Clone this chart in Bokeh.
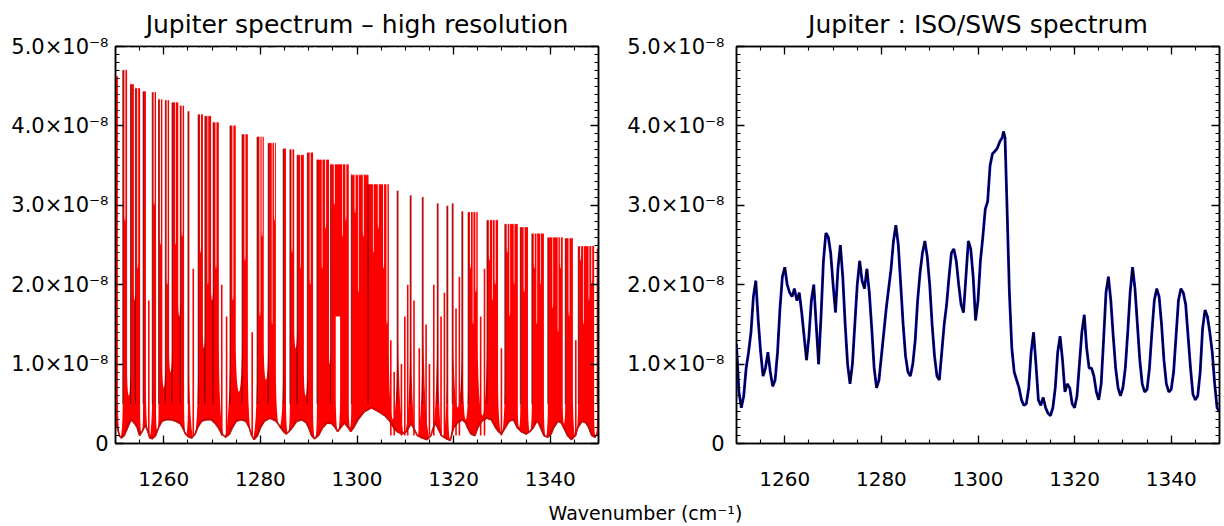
import math
from bokeh.plotting import figure
from bokeh.models import LinearAxis, SingleIntervalTicker, Range1d
from bokeh.layouts import column, row
from bokeh.embed import file_html
from bokeh.resources import INLINE
from bokeh.core.properties import value

# ---------------- data (values in units of 1e-8) ----------------
# High-resolution panel: clusters of strong lines (towers)
band_lo = [1250.0, 1251.5, 1253.1, 1254.1, 1255.7, 1257.6, 1258.9, 1260.3, 1261.7, 1263.4,
           1265.0, 1267.1, 1268.5, 1270.2, 1273.7, 1276.2, 1279.3, 1281.6, 1284.7, 1286.1,
           1287.6, 1289.7, 1291.7, 1294.5, 1298.8, 1302.3, 1308.3, 1311.0, 1313.5, 1316.6,
           1318.6, 1319.7, 1321.7, 1323.0, 1326.9, 1330.6, 1333.8, 1336.2, 1339.5, 1343.1,
           1345.8, 1349.7]
band_hi = [1250.5, 1252.4, 1253.8, 1255.1, 1256.3, 1258.4, 1259.7, 1261.1, 1263.0, 1264.2,
           1265.3, 1268.1, 1269.8, 1271.4, 1274.9, 1277.4, 1280.7, 1283.2, 1285.3, 1287.0,
           1289.0, 1290.9, 1294.2, 1298.3, 1302.3, 1306.6, 1308.6, 1311.3, 1313.8, 1316.9,
           1318.9, 1320.0, 1322.0, 1325.0, 1329.2, 1333.3, 1335.4, 1338.7, 1342.6, 1344.7,
           1349.1, 1350.0]
band_top = [4.62, 4.70, 4.52, 4.47, 4.43, 4.42, 4.33, 4.32, 4.29, 4.25,
            4.18, 4.14, 4.12, 4.04, 4.00, 3.89, 3.86, 3.78, 3.71, 3.70,
            3.63, 3.66, 3.57, 3.51, 3.38, 3.26, 3.18, 3.12, 3.10, 3.02,
            2.99, 3.02, 2.92, 2.91, 2.81, 2.76, 2.72, 2.64, 2.59, 2.58,
            2.48, 2.45]

# Lower envelope (minimum) of the high-resolution spectrum
floor_wn = [1250.0, 1250.4, 1250.8, 1251.2, 1251.8, 1252.5, 1253.2, 1254.0, 1254.5, 1255.0,
            1255.5, 1255.9, 1256.3, 1256.7, 1257.1, 1257.6, 1258.3, 1258.9, 1259.6, 1260.5,
            1261.5, 1262.5, 1263.4, 1263.9, 1264.5, 1265.2, 1265.8, 1266.5, 1267.0, 1267.8,
            1268.8, 1269.8, 1270.7, 1271.3, 1272.0, 1272.8, 1273.6, 1274.2, 1275.0, 1276.0,
            1277.0, 1277.7, 1278.2, 1278.7, 1279.4, 1280.0, 1280.8, 1282.0, 1283.3, 1284.2,
            1284.8, 1285.3, 1285.9, 1286.6, 1287.5, 1288.6, 1289.5, 1290.0, 1290.6, 1291.2,
            1292.0, 1292.9, 1293.8, 1294.8, 1295.5, 1296.0, 1296.6, 1297.4, 1298.2, 1298.7,
            1299.3, 1300.2, 1301.5, 1303.0, 1304.5, 1305.8, 1306.8, 1307.6, 1308.3, 1309.3,
            1310.2, 1310.7, 1311.2, 1311.7, 1312.5, 1313.5, 1314.5, 1315.3, 1315.8, 1316.3,
            1316.7, 1317.5, 1318.5, 1319.3, 1320.0, 1320.8, 1321.8, 1322.5, 1322.9, 1323.6,
            1324.4, 1325.0, 1325.8, 1326.8, 1327.8, 1328.7, 1329.3, 1329.9, 1330.7, 1331.5,
            1332.4, 1333.2, 1334.0, 1335.0, 1335.8, 1336.5, 1337.2, 1337.6, 1338.0, 1338.7,
            1339.5, 1340.2, 1340.7, 1341.6, 1342.3, 1342.8, 1343.6, 1344.4, 1345.2, 1345.7,
            1346.6, 1347.4, 1348.0, 1348.6, 1349.3, 1350.0]
floor_val = [0.25, 0.20, 0.10, 0.07, 0.10, 0.20, 0.30, 0.25, 0.20, 0.10,
             0.15, 0.20, 0.22, 0.15, 0.07, 0.06, 0.10, 0.20, 0.28, 0.30,
             0.30, 0.28, 0.25, 0.20, 0.12, 0.08, 0.07, 0.12, 0.20, 0.28,
             0.30, 0.30, 0.25, 0.20, 0.12, 0.08, 0.12, 0.20, 0.28, 0.30,
             0.28, 0.20, 0.10, 0.05, 0.10, 0.20, 0.28, 0.32, 0.28, 0.20,
             0.15, 0.12, 0.15, 0.20, 0.28, 0.30, 0.26, 0.20, 0.10, 0.06,
             0.10, 0.20, 0.26, 0.25, 0.20, 0.15, 0.20, 0.26, 0.20, 0.15,
             0.20, 0.30, 0.40, 0.45, 0.40, 0.35, 0.28, 0.20, 0.15, 0.12,
             0.15, 0.20, 0.25, 0.20, 0.10, 0.07, 0.05, 0.10, 0.20, 0.26,
             0.20, 0.10, 0.06, 0.04, 0.20, 0.26, 0.30, 0.26, 0.20, 0.12,
             0.10, 0.20, 0.28, 0.32, 0.30, 0.20, 0.15, 0.12, 0.20, 0.28,
             0.30, 0.20, 0.15, 0.12, 0.15, 0.20, 0.28, 0.26, 0.20, 0.10,
             0.08, 0.12, 0.20, 0.28, 0.26, 0.20, 0.10, 0.05, 0.10, 0.20,
             0.28, 0.26, 0.20, 0.10, 0.08, 0.15]

# White gaps between lines: left edge, right edge, lowest value, upper end
gap_lo = [1250.5, 1252.4, 1253.8, 1255.1, 1256.3, 1258.4, 1259.7, 1261.1, 1262.35, 1263.0,
          1264.2, 1265.3, 1268.1, 1269.05, 1269.8, 1271.4, 1274.9, 1277.4, 1280.7, 1282.35,
          1283.2, 1285.3, 1287.0, 1288.25, 1289.0, 1290.9, 1292.7, 1294.2, 1295.6, 1296.9,
          1298.3, 1300.2, 1303.3, 1306.6, 1308.6, 1311.3, 1313.8, 1316.9, 1318.9, 1320.0,
          1322.0, 1323.95, 1325.0, 1327.95, 1329.2, 1331.55, 1332.45, 1333.3, 1335.4, 1337.15,
          1337.95, 1338.7, 1340.45, 1341.55, 1342.6, 1344.7, 1346.85, 1347.95, 1349.1,
          1251.85, 1254.5, 1257.9, 1259.2, 1260.6, 1263.7, 1267.5, 1270.7, 1274.2, 1276.7,
          1279.8, 1280.25, 1282.8, 1286.45, 1290.2, 1293.4, 1295.2, 1297.6, 1299.5, 1301.2,
          1304.3, 1305.4, 1306.1, 1323.4, 1324.5, 1327.3, 1328.5, 1331.0, 1334.5, 1336.6,
          1342.0, 1343.8, 1346.2, 1348.5]
gap_hi = [1251.5, 1253.1, 1254.1, 1255.7, 1257.6, 1258.9, 1260.3, 1261.7, 1262.5, 1263.4,
          1265.0, 1267.1, 1268.5, 1269.2, 1270.2, 1273.7, 1276.2, 1279.3, 1281.6, 1282.5,
          1284.7, 1286.1, 1287.6, 1288.4, 1289.7, 1291.7, 1292.85, 1294.5, 1296.5, 1297.05,
          1298.8, 1300.35, 1303.45, 1308.3, 1311.0, 1313.5, 1316.6, 1318.6, 1319.7, 1321.7,
          1323.0, 1324.1, 1326.9, 1328.1, 1330.6, 1331.7, 1332.6, 1333.8, 1336.2, 1337.3,
          1338.1, 1339.5, 1340.6, 1341.7, 1343.1, 1345.8, 1347.0, 1348.1, 1349.7,
          1252.05, 1254.7, 1258.1, 1259.4, 1260.8, 1263.9, 1267.7, 1270.9, 1274.4, 1276.9,
          1280.0, 1280.45, 1283.0, 1286.65, 1290.4, 1293.6, 1295.4, 1297.8, 1299.7, 1301.4,
          1304.5, 1305.6, 1306.3, 1323.6, 1324.7, 1327.5, 1328.7, 1331.2, 1334.7, 1336.8,
          1342.2, 1344.0, 1346.4, 1348.7]
gap_bot = [0.07, 0.60, 1.80, 0.12, 0.06, 0.15, 0.70, 0.90, 2.50, 1.60,
           0.10, 0.07, 1.20, 2.00, 1.80, 0.08, 0.65, 0.05, 0.80, 1.50,
           0.20, 0.12, 1.20, 2.20, 0.60, 0.06, 2.20, 1.00, 0.15, 2.60,
           0.20, 1.90, 2.40, 0.30, 0.12, 0.07, 0.05, 0.08, 0.04, 0.45,
           0.30, 1.50, 0.35, 1.80, 0.12, 1.60, 2.00, 0.20, 0.14, 1.50,
           2.00, 0.08, 1.70, 1.40, 0.25, 0.08, 1.50, 1.80, 0.08,
           2.80, 2.20, 3.00, 2.50, 2.00, 2.60, 2.40, 2.20, 1.80, 2.30,
           1.60, 2.60, 2.80, 2.40, 2.00, 2.70, 3.00, 2.80, 2.90, 2.60,
           2.70, 2.20, 1.50, 2.20, 1.90, 2.30, 2.00, 2.40, 1.90, 2.20,
           2.20, 1.60, 2.30, 2.00]
gap_top = [6.0] * 28 + [1.6] + [6.0] * 64

# Weaker single lines standing inside the gaps
weak_wn = [1256.9, 1266.1, 1272.0, 1273.0, 1278.3, 1307.0, 1307.7, 1309.2, 1309.9, 1310.5,
           1311.8, 1312.9, 1314.3, 1315.0, 1315.9, 1317.4, 1318.1, 1320.5, 1321.2, 1325.6,
           1326.4, 1329.9, 1345.3]
weak_top = [1.8, 2.2, 2.0, 1.6, 1.4, 1.3, 0.9, 1.0, 1.6, 2.0,
            1.8, 1.2, 1.5, 1.0, 2.0, 1.6, 1.9, 1.7, 2.1, 1.6,
            2.2, 1.2, 1.3]

# ISO/SWS low-resolution spectrum
iso_wn = [1250.0, 1250.5, 1251.0, 1251.5, 1252.0, 1252.5, 1253.0, 1253.5, 1254.0, 1254.5,
          1255.0, 1255.5, 1256.0, 1256.5, 1257.0, 1257.5, 1258.0, 1258.5, 1259.0, 1259.5,
          1260.0, 1260.5, 1261.0, 1261.5, 1262.0, 1262.5, 1263.0, 1263.5, 1264.0, 1264.5,
          1265.0, 1265.5, 1266.0, 1266.5, 1267.0, 1267.5, 1268.0, 1268.5, 1269.0, 1269.5,
          1270.0, 1270.5, 1271.0, 1271.5, 1272.0, 1272.5, 1273.0, 1273.5, 1274.0, 1274.5,
          1275.0, 1275.5, 1276.0, 1276.5, 1277.0, 1277.5, 1278.0, 1278.5, 1279.0, 1279.5,
          1280.0, 1280.5, 1281.0, 1281.5, 1282.0, 1282.5, 1283.0, 1283.5, 1284.0, 1284.5,
          1285.0, 1285.5, 1286.0, 1286.5, 1287.0, 1287.5, 1288.0, 1288.5, 1289.0, 1289.5,
          1290.0, 1290.5, 1291.0, 1291.5, 1292.0, 1292.5, 1293.0, 1293.5, 1294.0, 1294.5,
          1295.0, 1295.5, 1296.0, 1296.5, 1297.0, 1297.5, 1298.0, 1298.5, 1299.0, 1299.5,
          1300.0, 1300.5, 1301.0, 1301.5, 1302.0, 1302.5, 1303.0, 1303.5, 1304.0, 1304.5,
          1305.0, 1305.3, 1305.6, 1306.0, 1306.5, 1307.0, 1307.5, 1308.0, 1308.5, 1309.0,
          1309.5, 1310.0, 1310.5, 1311.0, 1311.5, 1312.0, 1312.5, 1313.0, 1313.5, 1314.0,
          1314.5, 1315.0, 1315.5, 1316.0, 1316.5, 1317.0, 1317.5, 1318.0, 1318.5, 1319.0,
          1319.5, 1320.0, 1320.5, 1321.0, 1321.5, 1322.0, 1322.5, 1323.0, 1323.5, 1324.0,
          1324.5, 1325.0, 1325.5, 1326.0, 1326.5, 1327.0, 1327.5, 1328.0, 1328.5, 1329.0,
          1329.5, 1330.0, 1330.5, 1331.0, 1331.5, 1332.0, 1332.5, 1333.0, 1333.5, 1334.0,
          1334.5, 1335.0, 1335.5, 1336.0, 1336.5, 1337.0, 1337.5, 1338.0, 1338.5, 1339.0,
          1339.5, 1340.0, 1340.5, 1341.0, 1341.5, 1342.0, 1342.5, 1343.0, 1343.5, 1344.0,
          1344.5, 1345.0, 1345.5, 1346.0, 1346.5, 1347.0, 1347.5, 1348.0, 1348.5, 1349.0,
          1349.5, 1350.0]
iso_val = [1.25, 0.65, 0.45, 0.60, 0.95, 1.15, 1.40, 1.85, 2.05, 1.55,
           1.15, 0.85, 0.95, 1.15, 0.90, 0.72, 0.80, 1.15, 1.70, 2.10,
           2.22, 2.00, 1.90, 1.85, 1.95, 1.80, 1.90, 1.65, 1.35, 1.05,
           1.35, 1.80, 2.00, 1.50, 1.00, 1.60, 2.30, 2.65, 2.60, 2.40,
           2.00, 1.65, 2.20, 2.50, 2.10, 1.50, 1.00, 0.75, 1.00, 1.50,
           2.00, 2.30, 2.05, 1.95, 2.20, 1.90, 1.45, 0.95, 0.70, 0.80,
           1.10, 1.40, 1.70, 1.95, 2.20, 2.55, 2.75, 2.50, 2.00, 1.50,
           1.10, 0.90, 0.85, 1.00, 1.30, 1.80, 2.15, 2.40, 2.55, 2.35,
           2.00, 1.50, 1.10, 0.85, 0.80, 1.15, 1.50, 1.75, 2.10, 2.40,
           2.45, 2.30, 2.00, 1.75, 1.65, 2.10, 2.55, 2.45, 2.10, 1.55,
           1.80, 2.30, 2.60, 2.95, 3.05, 3.50, 3.65, 3.68, 3.72, 3.80,
           3.85, 3.93, 3.85, 3.00, 1.90, 1.20, 0.90, 0.80, 0.70, 0.55,
           0.48, 0.50, 0.70, 1.15, 1.40, 1.00, 0.55, 0.48, 0.58, 0.45,
           0.38, 0.35, 0.45, 0.70, 1.15, 1.35, 1.05, 0.65, 0.75, 0.70,
           0.50, 0.45, 0.60, 1.00, 1.40, 1.62, 1.20, 0.95, 0.95, 0.85,
           0.65, 0.55, 0.75, 1.30, 1.90, 2.10, 1.80, 1.35, 0.95, 0.70,
           0.60, 0.70, 0.95, 1.40, 1.90, 2.22, 1.95, 1.50, 1.05, 0.75,
           0.65, 0.68, 0.95, 1.40, 1.80, 1.95, 1.85, 1.50, 1.05, 0.75,
           0.65, 0.68, 0.90, 1.35, 1.80, 1.95, 1.90, 1.75, 1.35, 0.95,
           0.62, 0.55, 0.60, 0.90, 1.45, 1.68, 1.60, 1.40, 1.15, 0.75,
           0.45, 0.40]

x_ticks = [1260, 1280, 1300, 1320, 1340]
y_ticks = [0, 1, 2, 3, 4, 5]
y_tick_labels = ["0", "1.0×10⁻⁸", "2.0×10⁻⁸", "3.0×10⁻⁸", "4.0×10⁻⁸", "5.0×10⁻⁸"]

FONT = "DejaVu Sans"


def make_panel(title, border_top, border_bottom, border_left, border_right, frame_w, ylab_standoff):
    p = figure(width=border_left + frame_w + border_right,
               height=border_top + 400 + border_bottom,
               x_range=Range1d(1250, 1350), y_range=Range1d(0, 5),
               output_backend="svg", toolbar_location=None,
               min_border_top=border_top, min_border_bottom=border_bottom,
               min_border_left=border_left, min_border_right=border_right)
    p.title.text = title
    p.title.align = "center"
    p.title.text_font = FONT
    p.title.text_font_size = "25px"
    p.title.text_font_style = "normal"
    p.title.text_color = "black"
    p.title.standoff = 15
    p.grid.visible = False
    p.outline_line_color = "black"
    p.outline_line_width = 1.5

    bottom_ax = p.below[0]
    left_ax = p.left[0]
    xt = SingleIntervalTicker(interval=20, num_minor_ticks=4)
    yt = SingleIntervalTicker(interval=1, num_minor_ticks=10)
    bottom_ax.ticker = xt
    left_ax.ticker = yt
    left_ax.major_label_overrides = {float(v): s for v, s in zip(y_ticks, y_tick_labels)}
    top_ax = LinearAxis(ticker=xt, major_label_overrides={float(v): "" for v in x_ticks})
    right_ax = LinearAxis(ticker=yt, major_label_overrides={float(v): "" for v in y_ticks})
    p.add_layout(top_ax, "above")
    p.add_layout(right_ax, "right")
    for ax in [bottom_ax, left_ax, top_ax, right_ax]:
        ax.major_tick_in = 8
        ax.major_tick_out = 0
        ax.minor_tick_in = 4
        ax.minor_tick_out = 0
        ax.axis_line_width = 1.5
        ax.major_tick_line_width = 1.3
        ax.minor_tick_line_width = 1.1
        ax.major_label_text_font = FONT
        ax.major_label_text_color = "black"
    for ax in [top_ax, right_ax]:
        ax.major_label_standoff = 0
    bottom_ax.major_label_text_font_size = "20px"
    bottom_ax.major_label_standoff = 28
    left_ax.major_label_text_font_size = "21px"
    left_ax.major_label_standoff = ylab_standoff
    return p


# ---------------- left panel ----------------
p1 = make_panel("Jupiter spectrum – high resolution", 43, 55, 115, 20, 483, 7)

env_x, env_y = [], []
for lo, hi, tp in zip(band_lo, band_hi, band_top):
    env_x += [lo, hi]
    env_y += [tp, tp]
p1.patch(env_x + floor_wn[::-1], env_y + floor_val[::-1],
         fill_color="red", line_color="red", line_width=0.8)

gxs, gys = [], []
for lo, hi, bt, tp in zip(gap_lo, gap_hi, gap_bot, gap_top):
    w = hi - lo
    h = min(0.5 * w, tp - bt)
    c = (lo + hi) / 2
    r = w / 2
    xs, ys = [lo], [tp]
    for k in range(13):
        a = math.pi * k / 12
        xs.append(c - r * math.cos(a))
        ys.append(bt + h - h * math.sin(a))
    xs.append(hi)
    ys.append(tp)
    gxs.append(xs)
    gys.append(ys)
p1.patches(gxs, gys, fill_color="white", line_color=None)

p1.segment(x0=weak_wn, y0=[0.1] * len(weak_wn), x1=weak_wn, y1=weak_top,
           line_color="red", line_width=1.6)

# second (black) spectrum, visible at the edges of the line clusters
p1.segment(x0=band_lo, y0=[0.5] * len(band_lo), x1=band_lo, y1=band_top,
           line_color="black", line_width=0.8, line_alpha=0.7)

p1.line(floor_wn, floor_val, line_color="black", line_width=1.8, line_alpha=0.6)
p1.line(floor_wn, floor_val, line_color="red", line_width=1.1)

# ---------------- right panel ----------------
p2 = make_panel("Jupiter : ISO/SWS spectrum", 45, 53, 118, 5, 483, 12)
p2.line(iso_wn, iso_val, line_color="#0000ff", line_width=2.8)
p2.line(iso_wn, iso_val, line_color="black", line_width=1.5)

# ---------------- common x label ----------------
p3 = figure(width=1224, height=28, x_range=Range1d(0, 1224), y_range=Range1d(0, 28),
            output_backend="svg", toolbar_location=None, min_border=0,
            x_axis_type=None, y_axis_type=None)
p3.outline_line_color = None
p3.grid.visible = False
p3.text(x=[645], y=[14], text=["Wavenumber (cm⁻¹)"], text_font=value(FONT),
        text_font_size="19px", text_align="center", text_baseline="middle",
        text_color="black")

layout = column(row(p1, p2), p3)
open("out.html", "w").write(file_html(layout, INLINE))
